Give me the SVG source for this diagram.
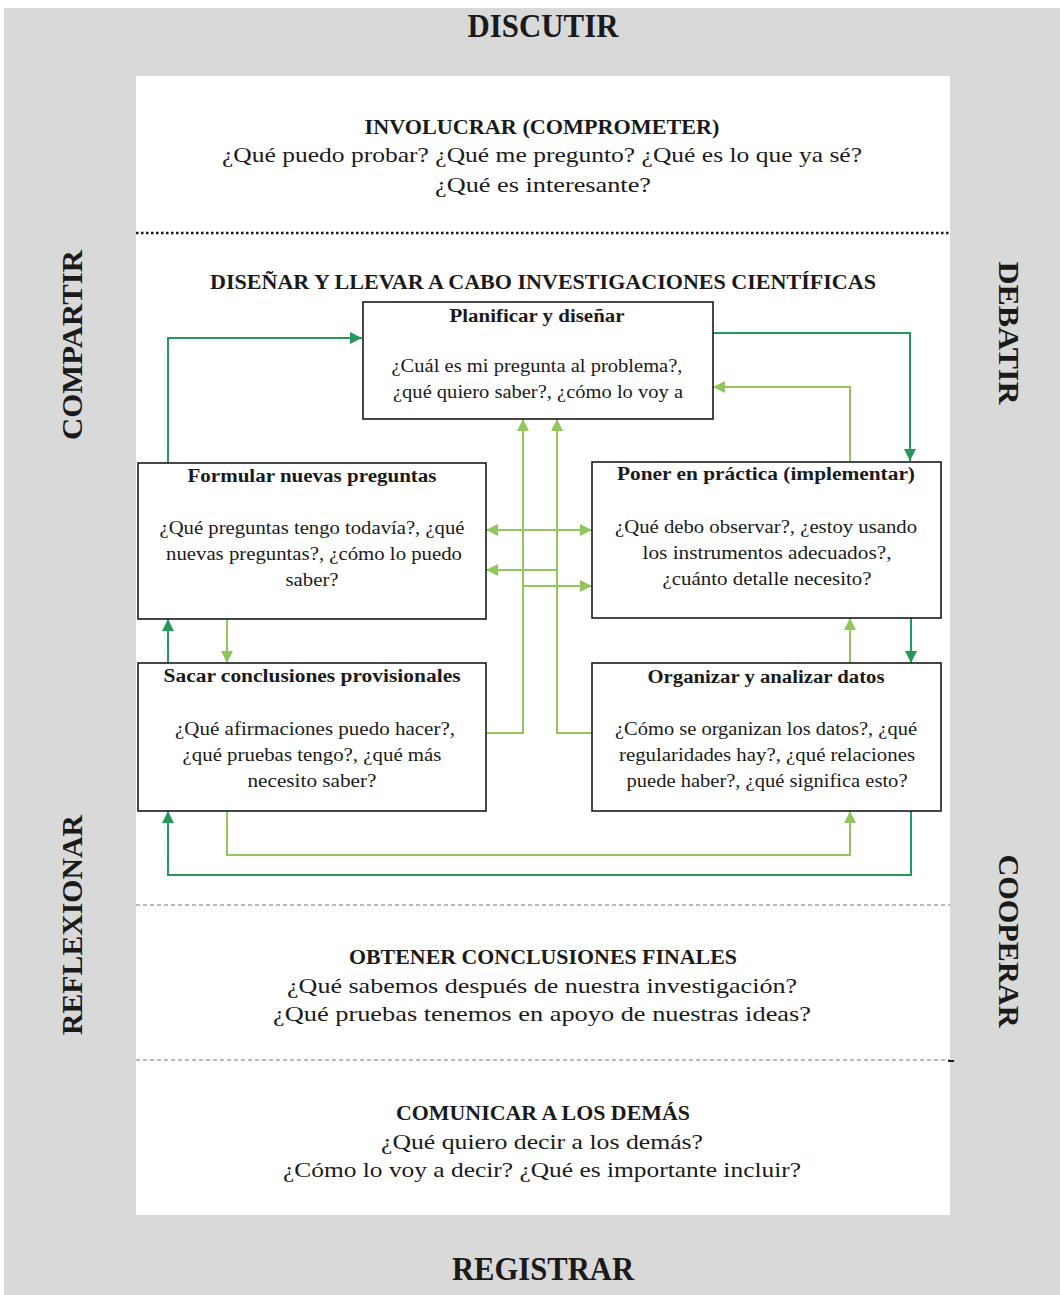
<svg xmlns="http://www.w3.org/2000/svg" width="1060" height="1295" viewBox="0 0 1060 1295">
<defs>
<style>
.t{font-family:"Liberation Serif","DejaVu Serif",serif;fill:#1a1a1a;text-anchor:middle}
.big{font-size:33px;font-weight:bold}
.side{font-size:30px;font-weight:bold}
.h{font-size:21px;font-weight:bold}
.p{font-size:22px}
.bt{font-size:18px;font-weight:bold}
.bp{font-size:18px}
.box{fill:#fff;stroke:#1a1a1a;stroke-width:1.6}
.dk{fill:none;stroke:#25985c;stroke-width:2}
.lt{fill:none;stroke:#91c65c;stroke-width:2}
</style>
<marker id="ad" viewBox="0 0 10 10" refX="10" refY="5" markerWidth="13" markerHeight="12" markerUnits="userSpaceOnUse" orient="auto-start-reverse"><path d="M0,0 L10,5 L0,10 z" fill="#25985c"/></marker>
<marker id="al" viewBox="0 0 10 10" refX="10" refY="5" markerWidth="13" markerHeight="12" markerUnits="userSpaceOnUse" orient="auto-start-reverse"><path d="M0,0 L10,5 L0,10 z" fill="#91c65c"/></marker>
</defs>
<rect x="0" y="0" width="1060" height="1295" fill="#ffffff"/>
<rect x="4" y="8" width="1056" height="1287" fill="#d9d9d9"/>
<rect x="136" y="76" width="814" height="1139" fill="#ffffff"/>
<g id="separators">
<line x1="136" y1="233" x2="950" y2="233" stroke="#1a1a1a" stroke-width="2.5" stroke-dasharray="2.5,2.5"/>
<line x1="136" y1="905" x2="950" y2="905" stroke="#777" stroke-width="1" stroke-dasharray="4,3"/>
<line x1="136" y1="1060" x2="950" y2="1060" stroke="#777" stroke-width="1" stroke-dasharray="4,3"/>
<line x1="948" y1="1061" x2="954" y2="1061" stroke="#1a1a1a" stroke-width="2"/>
</g>
<g id="outer-labels">
<text class="t big" x="543" y="37" textLength="151" lengthAdjust="spacingAndGlyphs">DISCUTIR</text>
<text class="t big" x="543" y="1280" textLength="182" lengthAdjust="spacingAndGlyphs">REGISTRAR</text>
<text class="t side" transform="translate(82,345) rotate(-90)" textLength="190" lengthAdjust="spacingAndGlyphs">COMPARTIR</text>
<text class="t side" transform="translate(82,925) rotate(-90)" textLength="220" lengthAdjust="spacingAndGlyphs">REFLEXIONAR</text>
<text class="t side" transform="translate(999,333) rotate(90)" textLength="143" lengthAdjust="spacingAndGlyphs">DEBATIR</text>
<text class="t side" transform="translate(999,941) rotate(90)" textLength="173" lengthAdjust="spacingAndGlyphs">COOPERAR</text>
</g>
<g id="involucrar">
<text class="t h" x="542" y="134" textLength="355" lengthAdjust="spacingAndGlyphs">INVOLUCRAR (COMPROMETER)</text>
<text class="t p" x="542" y="162" textLength="640" lengthAdjust="spacingAndGlyphs">¿Qué puedo probar? ¿Qué me pregunto? ¿Qué es lo que ya sé?</text>
<text class="t p" x="543" y="192" textLength="216" lengthAdjust="spacingAndGlyphs">¿Qué es interesante?</text>
</g>
<g id="disenar-title">
<text class="t h" x="543" y="289" textLength="666" lengthAdjust="spacingAndGlyphs">DISEÑAR Y LLEVAR A CABO INVESTIGACIONES CIENTÍFICAS</text>
</g>
<g id="connectors">
<path class="dk" d="M168,463 V338 H362" marker-end="url(#ad)"/>
<path class="dk" d="M713,333 H910 V461" marker-end="url(#ad)"/>
<path class="dk" d="M168,663 V619" marker-end="url(#ad)"/>
<path class="dk" d="M911,618 V663" marker-end="url(#ad)"/>
<path class="dk" d="M911,811 V875 H168 V811" marker-end="url(#ad)"/>
<path class="lt" d="M850,461 V387 H713" marker-end="url(#al)"/>
<path class="lt" d="M486,733 H523 V419" marker-end="url(#al)"/>
<path class="lt" d="M592,733 H557 V419" marker-end="url(#al)"/>
<path class="lt" d="M486,530 H592" marker-start="url(#al)" marker-end="url(#al)"/>
<path class="lt" d="M557,570 H486" marker-end="url(#al)"/>
<path class="lt" d="M523,586 H592" marker-end="url(#al)"/>
<path class="lt" d="M227,619 V663" marker-end="url(#al)"/>
<path class="lt" d="M850,663 V618" marker-end="url(#al)"/>
<path class="lt" d="M227,811 V855 H850 V811" marker-end="url(#al)"/>
</g>
<g id="planificar">
<rect class="box" x="363" y="302" width="350" height="117"/>
<text class="t bt" x="537" y="322" textLength="175" lengthAdjust="spacingAndGlyphs">Planificar y diseñar</text>
<text class="t bp" x="537" y="372" textLength="291" lengthAdjust="spacingAndGlyphs">¿Cuál es mi pregunta al problema?,</text>
<text class="t bp" x="538" y="398" textLength="290" lengthAdjust="spacingAndGlyphs">¿qué quiero saber?, ¿cómo lo voy a</text>
</g>
<g id="formular">
<rect class="box" x="138" y="463" width="348" height="156"/>
<text class="t bt" x="312" y="482" textLength="249" lengthAdjust="spacingAndGlyphs">Formular nuevas preguntas</text>
<text class="t bp" x="312" y="534" textLength="305" lengthAdjust="spacingAndGlyphs">¿Qué preguntas tengo todavía?, ¿qué</text>
<text class="t bp" x="314" y="560" textLength="296" lengthAdjust="spacingAndGlyphs">nuevas preguntas?, ¿cómo lo puedo</text>
<text class="t bp" x="312" y="586" textLength="53" lengthAdjust="spacingAndGlyphs">saber?</text>
</g>
<g id="poner">
<rect class="box" x="592" y="462" width="349" height="156"/>
<text class="t bt" x="766" y="480" textLength="298" lengthAdjust="spacingAndGlyphs">Poner en práctica (implementar)</text>
<text class="t bp" x="766" y="533" textLength="302" lengthAdjust="spacingAndGlyphs">¿Qué debo observar?, ¿estoy usando</text>
<text class="t bp" x="767" y="559" textLength="249" lengthAdjust="spacingAndGlyphs">los instrumentos adecuados?,</text>
<text class="t bp" x="767" y="585" textLength="209" lengthAdjust="spacingAndGlyphs">¿cuánto detalle necesito?</text>
</g>
<g id="sacar">
<rect class="box" x="138" y="663" width="348" height="148"/>
<text class="t bt" x="312" y="682" textLength="297" lengthAdjust="spacingAndGlyphs">Sacar conclusiones provisionales</text>
<text class="t bp" x="315" y="735" textLength="280" lengthAdjust="spacingAndGlyphs">¿Qué afirmaciones puedo hacer?,</text>
<text class="t bp" x="312" y="761" textLength="259" lengthAdjust="spacingAndGlyphs">¿qué pruebas tengo?, ¿qué más</text>
<text class="t bp" x="312" y="787" textLength="129" lengthAdjust="spacingAndGlyphs">necesito saber?</text>
</g>
<g id="organizar">
<rect class="box" x="592" y="663" width="349" height="148"/>
<text class="t bt" x="766" y="683" textLength="237" lengthAdjust="spacingAndGlyphs">Organizar y analizar datos</text>
<text class="t bp" x="766" y="735" textLength="302" lengthAdjust="spacingAndGlyphs">¿Cómo se organizan los datos?, ¿qué</text>
<text class="t bp" x="767" y="761" textLength="296" lengthAdjust="spacingAndGlyphs">regularidades hay?, ¿qué relaciones</text>
<text class="t bp" x="767" y="787" textLength="281" lengthAdjust="spacingAndGlyphs">puede haber?, ¿qué significa esto?</text>
</g>
<g id="obtener">
<text class="t h" x="543" y="964" textLength="388" lengthAdjust="spacingAndGlyphs">OBTENER CONCLUSIONES FINALES</text>
<text class="t p" x="542" y="993" textLength="510" lengthAdjust="spacingAndGlyphs">¿Qué sabemos después de nuestra investigación?</text>
<text class="t p" x="542" y="1021" textLength="538" lengthAdjust="spacingAndGlyphs">¿Qué pruebas tenemos en apoyo de nuestras ideas?</text>
</g>
<g id="comunicar">
<text class="t h" x="543" y="1120" textLength="294" lengthAdjust="spacingAndGlyphs">COMUNICAR A LOS DEMÁS</text>
<text class="t p" x="542" y="1149" textLength="322" lengthAdjust="spacingAndGlyphs">¿Qué quiero decir a los demás?</text>
<text class="t p" x="542" y="1177" textLength="518" lengthAdjust="spacingAndGlyphs">¿Cómo lo voy a decir? ¿Qué es importante incluir?</text>
</g>
</svg>
